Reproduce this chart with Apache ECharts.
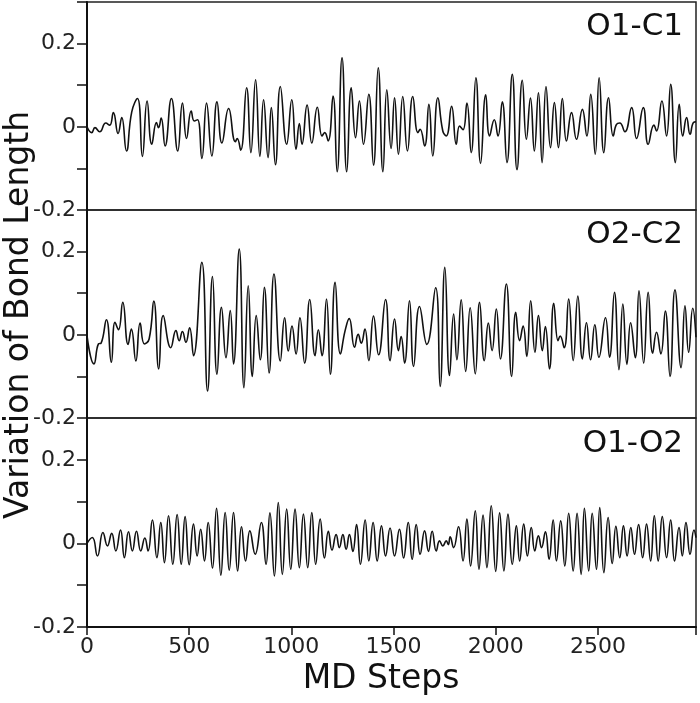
<!DOCTYPE html>
<html><head><meta charset="utf-8">
<script src="https://cdn.jsdelivr.net/npm/echarts@6/dist/echarts.min.js"></script>
<style>html,body{margin:0;padding:0;background:#fff}#c{width:700px;height:703px}</style>
</head><body><div id="c"></div>
<script>
// Panel labels and axis tick labels
const panelNames = ['O1-C1', 'O2-C2', 'O1-O2'];
const xTickLabels = [0, 500, 1000, 1500, 2000, 2500];
const yTickLabels = [-0.2, 0, 0.2];
const xTitle = 'MD Steps';
const yTitle = 'Variation of Bond Length';

// Series: [MD step, bond length variation] read at the turning points of each trace
const o1c1 = [[0,0],[23,-0.014],[39,-0.002],[62,-0.012],[92,0.009],[111,0.004],[129,0.034],[152,-0.016],[170,0.022],[193,-0.058],[219,0.036],[247,0.068],[271,-0.071],[294,0.062],[317,-0.042],[340,0.010],[350,-0.002],[363,0.021],[382,-0.046],[413,0.068],[444,-0.058],[467,0.057],[487,-0.028],[510,0.038],[525,0.014],[541,0.017],[562,-0.076],[585,0.057],[611,-0.070],[636,0.060],[660,-0.039],[693,0.044],[726,-0.036],[735,-0.028],[752,-0.056],[781,0.094],[802,-0.062],[825,0.113],[846,-0.071],[864,0.065],[886,-0.074],[902,0.046],[922,-0.091],[946,0.097],[977,-0.042],[1002,0.065],[1023,-0.054],[1039,0.008],[1052,-0.042],[1077,0.052],[1100,-0.039],[1127,0.047],[1150,-0.022],[1163,-0.014],[1180,-0.034],[1204,0.074],[1224,-0.108],[1248,0.166],[1271,-0.108],[1293,0.094],[1314,-0.026],[1333,0.062],[1353,-0.042],[1379,0.078],[1402,-0.092],[1425,0.142],[1448,-0.108],[1467,0.089],[1488,-0.052],[1505,0.070],[1524,-0.066],[1545,0.073],[1568,-0.058],[1594,0.073],[1619,-0.014],[1630,-0.006],[1652,-0.046],[1673,0.054],[1692,-0.070],[1717,0.070],[1741,-0.010],[1758,-0.022],[1784,0.049],[1807,-0.042],[1823,0.002],[1840,-0.007],[1859,0.057],[1880,-0.062],[1903,0.118],[1926,-0.088],[1951,0.077],[1970,-0.022],[1993,0.017],[2011,-0.022],[2032,0.060],[2055,-0.086],[2081,0.126],[2104,-0.103],[2130,0.112],[2150,-0.030],[2170,0.069],[2189,-0.058],[2209,0.082],[2227,-0.086],[2246,0.097],[2268,-0.050],[2287,0.058],[2307,-0.050],[2326,0.068],[2346,-0.034],[2371,0.034],[2395,-0.030],[2424,0.042],[2446,-0.022],[2465,0.078],[2487,-0.066],[2506,0.118],[2529,-0.062],[2552,0.070],[2575,-0.022],[2591,0.006],[2607,0.009],[2632,-0.012],[2665,0.046],[2689,-0.028],[2722,0.046],[2746,-0.042],[2774,0.004],[2787,-0.010],[2813,0.062],[2836,-0.022],[2856,0.102],[2879,-0.086],[2898,0.054],[2915,-0.022],[2934,0.022],[2951,-0.018],[2967,0.010],[2980,0.012]];

const o2c2 = [[0,-0.002],[34,-0.070],[56,-0.022],[69,-0.020],[95,0.036],[119,-0.066],[137,0.030],[154,0.012],[175,0.078],[201,-0.023],[217,0.014],[239,-0.063],[260,0.028],[281,-0.022],[304,-0.010],[327,0.081],[351,-0.082],[373,0.046],[410,-0.031],[435,0.010],[451,-0.014],[467,0.008],[484,-0.018],[502,0.017],[521,-0.050],[562,0.174],[590,-0.135],[614,0.140],[636,-0.095],[658,0.066],[680,-0.055],[701,0.058],[717,-0.070],[745,0.206],[768,-0.127],[789,0.118],[809,-0.100],[828,0.046],[848,-0.060],[868,0.114],[891,-0.092],[915,0.146],[946,-0.063],[967,0.041],[985,-0.039],[1003,0.021],[1023,-0.046],[1042,0.041],[1065,-0.068],[1090,0.085],[1116,-0.050],[1132,0.012],[1150,-0.050],[1172,0.086],[1191,-0.095],[1214,0.126],[1240,-0.046],[1263,0.010],[1283,0.039],[1309,-0.030],[1327,0.001],[1342,-0.020],[1360,0.014],[1379,-0.062],[1402,0.045],[1427,-0.048],[1461,0.085],[1483,-0.062],[1505,0.038],[1524,-0.038],[1537,-0.004],[1554,-0.068],[1578,0.082],[1598,-0.076],[1627,0.068],[1663,-0.023],[1706,0.113],[1728,-0.124],[1751,0.162],[1774,-0.098],[1794,0.050],[1810,-0.060],[1831,0.084],[1853,-0.088],[1875,0.065],[1900,-0.094],[1921,0.078],[1944,-0.062],[1964,0.028],[1982,-0.038],[2003,0.062],[2023,-0.058],[2052,0.122],[2078,-0.100],[2098,0.054],[2117,-0.014],[2134,0.021],[2152,-0.052],[2171,0.082],[2192,-0.042],[2209,0.046],[2228,-0.038],[2243,0.020],[2263,-0.082],[2284,0.076],[2305,-0.014],[2315,-0.003],[2335,-0.031],[2357,0.086],[2379,-0.062],[2402,0.093],[2424,-0.058],[2444,0.029],[2464,-0.060],[2485,0.024],[2505,-0.054],[2537,0.041],[2557,-0.054],[2581,0.102],[2603,-0.084],[2622,0.074],[2642,-0.071],[2660,0.029],[2683,-0.055],[2701,0.106],[2724,-0.068],[2746,0.102],[2768,-0.044],[2787,0.006],[2808,-0.046],[2830,0.057],[2853,-0.100],[2877,0.108],[2907,-0.079],[2926,0.070],[2944,-0.042],[2964,0.064],[2980,-0.006]];

const o1o2 = [[0,0],[26,0.014],[51,-0.030],[78,0.026],[100,-0.006],[121,0.024],[141,-0.018],[164,0.032],[183,-0.034],[203,0.028],[222,-0.018],[242,0.029],[263,-0.018],[283,0.013],[299,-0.018],[320,0.056],[342,-0.034],[361,0.050],[379,-0.046],[399,0.066],[420,-0.050],[441,0.069],[461,-0.050],[480,0.064],[500,-0.051],[521,0.046],[539,-0.030],[556,0.034],[575,-0.042],[593,0.050],[614,-0.059],[634,0.084],[655,-0.076],[676,0.074],[696,-0.064],[717,0.074],[737,-0.066],[756,0.040],[776,-0.042],[797,0.030],[823,-0.026],[853,0.050],[876,-0.050],[895,0.073],[917,-0.078],[936,0.098],[956,-0.074],[977,0.082],[997,-0.062],[1018,0.082],[1039,-0.058],[1059,0.070],[1080,-0.058],[1100,0.074],[1119,-0.050],[1141,0.058],[1162,-0.035],[1181,0.029],[1199,-0.016],[1219,0.021],[1235,-0.010],[1252,0.021],[1268,-0.014],[1284,0.021],[1301,-0.019],[1319,0.045],[1338,-0.050],[1361,0.056],[1379,-0.042],[1400,0.050],[1420,-0.042],[1441,0.042],[1461,-0.030],[1483,0.037],[1505,-0.030],[1529,0.034],[1549,-0.035],[1572,0.050],[1591,-0.038],[1611,0.045],[1630,-0.026],[1652,0.030],[1671,-0.019],[1689,0.029],[1709,-0.018],[1725,0.006],[1741,-0.006],[1758,0.006],[1768,-0.003],[1777,0.016],[1794,-0.010],[1818,0.040],[1840,-0.042],[1859,0.058],[1877,-0.054],[1900,0.078],[1918,-0.062],[1938,0.068],[1957,-0.058],[1978,0.090],[2000,-0.067],[2019,0.073],[2040,-0.066],[2060,0.070],[2081,-0.050],[2101,0.042],[2117,-0.042],[2137,0.046],[2155,-0.030],[2174,0.038],[2191,-0.018],[2209,0.018],[2224,-0.010],[2243,0.028],[2261,-0.038],[2281,0.056],[2297,-0.042],[2318,0.054],[2338,-0.054],[2357,0.072],[2379,-0.066],[2398,0.072],[2418,-0.074],[2434,0.084],[2455,-0.066],[2472,0.072],[2493,-0.062],[2509,0.086],[2529,-0.070],[2550,0.062],[2570,-0.048],[2588,0.041],[2607,-0.034],[2625,0.042],[2643,-0.030],[2661,0.038],[2679,-0.026],[2699,0.045],[2719,-0.034],[2738,0.046],[2758,-0.042],[2776,0.066],[2795,-0.042],[2815,0.064],[2836,-0.034],[2856,0.056],[2875,-0.042],[2897,0.038],[2913,-0.030],[2931,0.050],[2951,-0.026],[2970,0.032],[2980,0.014]];

const seriesData = [o1c1, o2c2, o1o2];

const FONT = "'DejaVu Sans', 'Liberation Sans', sans-serif";
const tops = [2, 210, 418];
const heights = [208, 208, 209];
const nameY = [27, 235, 444];

const chart = echarts.init(document.getElementById('c'), null, {renderer: 'canvas'});

const option = {
  animation: false,
  backgroundColor: '#fff',
  grid: tops.map((t, i) => ({
    left: 87, right: 4, top: t, height: heights[i],
    show: true, borderColor: '#222', borderWidth: 1.5, backgroundColor: 'transparent'
  })),
  xAxis: [0, 1, 2].map(i => ({
    type: 'value', gridIndex: i, min: 0, max: 2980, interval: 500,
    show: i === 2, position: 'bottom',
    axisLine: {show: true, onZero: false, lineStyle: {color: '#111', width: 2}},
    axisTick: {show: true, length: 8, inside: false, lineStyle: {color: '#111', width: 1.5}},
    splitLine: {show: false},
    axisLabel: {
      show: i === 2, fontFamily: FONT, fontSize: 22, color: '#222', margin: 9,
      formatter: v => xTickLabels.includes(Math.round(v)) ? String(Math.round(v)) : ''
    }
  })),
  yAxis: [0, 1, 2].map(i => ({
    type: 'value', gridIndex: i, min: -0.2, max: 0.3, interval: 0.1,
    axisLine: {show: true, onZero: false, lineStyle: {color: '#111', width: 2}},
    axisTick: {show: true, length: 10, inside: false, lineStyle: {color: '#111', width: 1.5}},
    splitLine: {show: false},
    axisLabel: {
      fontFamily: FONT, fontSize: 22, color: '#222', margin: 11,
      formatter: v => {
        const r = Math.round(v * 10) / 10;
        if (!yTickLabels.includes(r)) return '';
        return r === 0 ? '0' : r.toFixed(1);
      }
    }
  })),
  series: seriesData.map((d, i) => ({
    type: 'line', xAxisIndex: i, yAxisIndex: i, data: d,
    smooth: 0.5, showSymbol: false, symbol: 'none',
    lineStyle: {color: '#111', width: 1.6}
  })),
  graphic: [
    ...panelNames.map((n, i) => ({
      type: 'text', x: 683, y: nameY[i],
      style: {text: n, font: "31px " + FONT, fill: '#111', align: 'right', verticalAlign: 'middle'}
    })),
    {type: 'text', x: 381, y: 679,
      style: {text: xTitle, font: "33px " + FONT, fill: '#111', align: 'center', verticalAlign: 'middle'}},
    {type: 'text', x: 19, y: 315, rotation: Math.PI / 2,
      style: {text: yTitle, font: "33px " + FONT, fill: '#111', align: 'center', verticalAlign: 'middle'}}
  ]
};
chart.setOption(option);
</script>
</body></html>
